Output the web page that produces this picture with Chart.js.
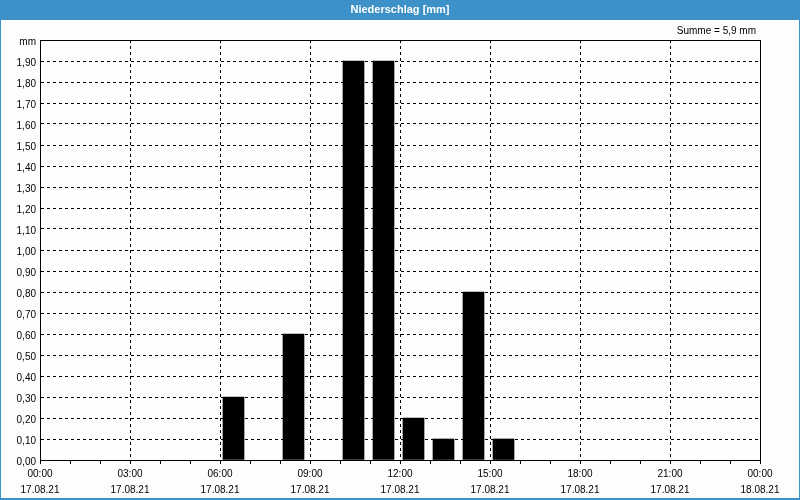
<!DOCTYPE html>
<html>
<head>
<meta charset="utf-8">
<script src="https://cdn.jsdelivr.net/npm/chart.js@4"></script>
<style>
  html, body { margin: 0; padding: 0; background: #fcfdfc; }
  #wrap { width: 800px; height: 500px; }
</style>
</head>
<body>
<div id="wrap"><canvas id="chart_area" width="800" height="500"></canvas></div>
<script>
// hourly rain, 17.08.21
const rainHours = [6, 8, 10, 11, 12, 13, 14, 15];
const rainValues = [0.3, 0.6, 1.9, 1.9, 0.2, 0.1, 0.8, 0.1];
const tickTimes = ['00:00', '03:00', '06:00', '09:00', '12:00', '15:00', '18:00', '21:00', '00:00'];
const tickDates = ['17.08.21', '17.08.21', '17.08.21', '17.08.21', '17.08.21', '17.08.21', '17.08.21', '17.08.21', '18.08.21'];
const yUnit = 'mm';
const titleText = 'Niederschlag [mm]';
const sumText = 'Summe = 5,9 mm';

const blue = '#3c91c8';
const fontName = "'Liberation Sans', Arial, sans-serif";

let ctx = document.getElementById('chart_area').getContext('2d');

// background, blue header band, frame and the two texts on top
const framePlugin = {
  id: 'frame',
  beforeDraw: function (chart) {
    const c = chart.ctx;
    c.save();
    c.fillStyle = '#fcfdfc';
    c.fillRect(0, 0, chart.width, chart.height);
    c.fillStyle = blue;
    c.fillRect(0, 0, chart.width, 20);
    c.fillRect(0, 0, 1, chart.height);
    c.fillRect(chart.width - 1, 0, 1, chart.height);
    c.fillRect(0, chart.height - 2, chart.width, 2);
    c.restore();
  },
  afterDraw: function (chart) {
    const c = chart.ctx;
    const a = chart.chartArea;
    c.save();
    c.strokeStyle = '#000';
    c.lineWidth = 1;
    c.strokeRect(Math.round(a.left) + 0.5, Math.round(a.top) + 0.5,
      Math.round(a.right - a.left), Math.round(a.bottom - a.top));
    c.fillStyle = '#fff';
    c.font = 'bold 11px ' + fontName;
    c.textAlign = 'center';
    c.textBaseline = 'middle';
    c.fillText(titleText, chart.width / 2, 10);
    c.fillStyle = '#000';
    c.font = '10px ' + fontName;
    c.textAlign = 'right';
    c.fillText(sumText, 756, 31);
    c.restore();
  }
};

const barData = rainHours.map((h, i) => ({ x: h + 0.45, y: rainValues[i] }));

let chart = new Chart(ctx, {
  type: 'bar',
  data: {
    datasets: [{
      data: barData,
      backgroundColor: '#000',
      borderWidth: 0,
      barThickness: 21
    }]
  },
  options: {
    responsive: false,
    animation: false,
    layout: { padding: { top: 40, right: 40, bottom: 0, left: 0 } },
    plugins: {
      legend: { display: false },
      tooltip: { enabled: false }
    },
    scales: {
      x: {
        type: 'linear',
        min: 0,
        max: 24,
        offset: false,
        afterFit: function (s) { s.height = 40; },
        ticks: {
          stepSize: 1,
          autoSkip: false,
          maxRotation: 0,
          padding: 2,
          color: '#000',
          font: { family: fontName, size: 10, lineHeight: 1.6 },
          callback: function (v) {
            return v % 3 === 0 ? [tickTimes[v / 3], tickDates[v / 3]] : '';
          }
        },
        grid: {
          offset: false,
          color: function (c) {
            const v = c.tick ? c.tick.value : 0;
            return (v % 3 === 0 && v !== 0 && v !== 24) ? '#000' : 'transparent';
          },
          tickColor: '#000',
          tickLength: 4,
          tickBorderDash: []
        },
        border: { color: '#000', dash: [3, 3] }
      },
      y: {
        min: 0,
        max: 2,
        afterFit: function (s) { s.width = 40; },
        ticks: {
          stepSize: 0.1,
          padding: 4,
          labelOffset: 2,
          color: '#000',
          font: { family: fontName, size: 10 },
          callback: function (v) {
            return v > 1.95 ? yUnit : v.toFixed(2).replace('.', ',');
          }
        },
        grid: {
          drawTicks: false,
          color: function (c) {
            const v = c.tick ? c.tick.value : 0;
            return (v > 0.05 && v < 1.95) ? '#000' : 'transparent';
          }
        },
        border: { color: '#000', dash: [3, 3] }
      }
    }
  },
  plugins: [framePlugin]
});
</script>
</body>
</html>
